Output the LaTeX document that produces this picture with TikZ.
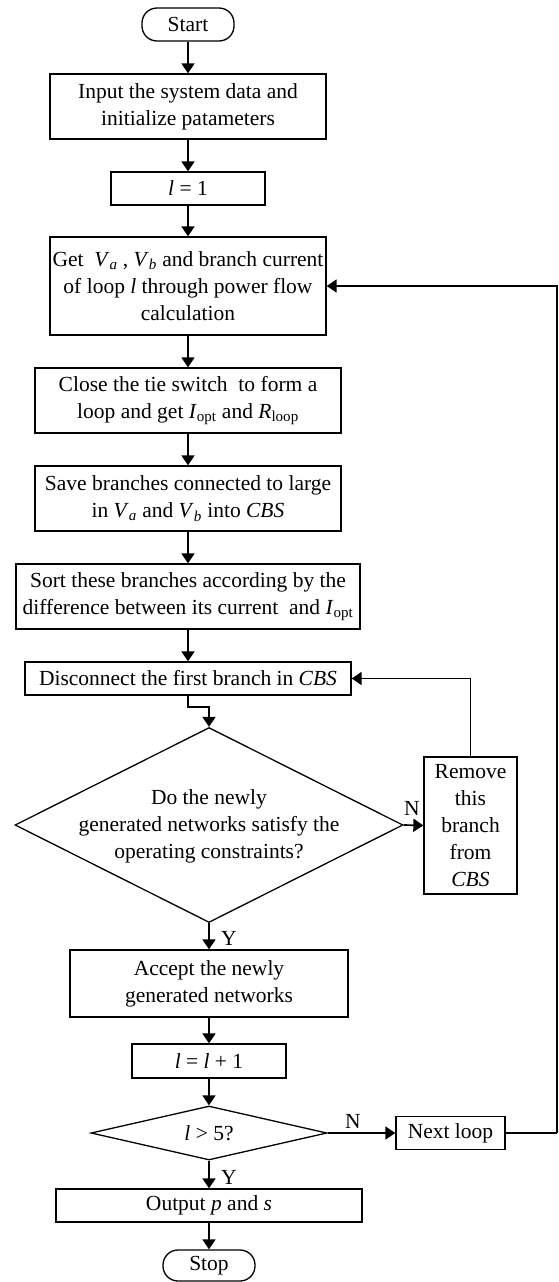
\documentclass[tikz,border=0pt]{standalone}
\usepackage{fontspec}
\setmainfont{Liberation Serif}
\usetikzlibrary{arrows.meta,shapes.geometric}
\newcommand{\myV}[1]{\textit{V}\textsubscript{\textit{#1}}}
\newcommand{\myIopt}{\textit{I}\textsubscript{opt}}
\begin{document}
\begin{tikzpicture}[x=1pt,y=-1pt,
  font=\fontsize{21.5}{27}\selectfont,
  box/.style={draw, line width=1.3pt, inner sep=0pt, align=center},
  term/.style={box, rounded corners=15pt},
  dec/.style={draw, diamond, line width=1.3pt, inner sep=0pt},
  arr/.style={line width=1.7pt, -{Triangle[length=10pt,width=13pt]}},
  ln/.style={line width=1.7pt},
  lab/.style={inner sep=0pt, align=center}]
\useasboundingbox (0,0) rectangle (558,1282);
\node[term, minimum width=92pt, minimum height=33pt] (start) at (188,24.5) {Start};
\node[box, minimum width=276pt, minimum height=65pt] (input) at (188,106.5) {Input the system data and\\initialize patameters};
\node[box, minimum width=154pt, minimum height=33pt] (l1) at (188,188.5) {\textit{l} = 1};
\node[box, minimum width=276pt, minimum height=98pt] (get) at (188,286) {Get \ \myV{a} , \myV{b} and branch current\\of loop \textit{l} through power flow\\calculation};
\node[box, minimum width=306pt, minimum height=65pt] (close) at (188,400.5) {Close the tie switch \ to form a\\loop and get \myIopt{} and \textit{R}\textsubscript{loop}};
\node[box, minimum width=306pt, minimum height=65pt] (save) at (188,498.5) {Save branches connected to large\\in \myV{a} and \myV{b} into \textit{CBS}};
\node[box, minimum width=344pt, minimum height=65pt] (sort) at (188,596.5) {Sort these branches according by the\\difference between its current \ and \myIopt};
\node[box, minimum width=326pt, minimum height=33pt] (disc) at (188,678.5) {Disconnect the first branch in \textit{CBS}};
\node[dec, minimum width=388pt, minimum height=195pt] (dia1) at (209,825) {};
\node[lab] (dia1t) at (209,826) {Do the newly\\generated networks satisfy the\\operating constraints?};
\node[box, minimum width=93pt, minimum height=137pt] (remove) at (470.5,825.5) {Remove\\this\\branch\\from\\\textit{CBS}};
\node[box, minimum width=278pt, minimum height=67pt] (accept) at (209,983.5) {Accept the newly\\generated networks};
\node[box, minimum width=154pt, minimum height=34pt] (l2) at (209,1061) {\textit{l} = \textit{l} + 1};
\node[dec, minimum width=236pt, minimum height=54pt] (dia2) at (209,1133) {};
\node[lab] (dia2t) at (209,1133) {\textit{l} {\textgreater} 5?};
\node[box, minimum width=109pt, minimum height=33pt] (next) at (450.5,1133) {Next loop};
\node[box, minimum width=306pt, minimum height=33pt] (output) at (209,1205.5) {Output \textit{p} and \textit{s}};
\node[term, minimum width=92pt, minimum height=31pt] (stop) at (209,1265.5) {Stop};
\coordinate (rc) at (557,1133);
\coordinate (bend) at (188,707);
% labels
\node[lab] (n1) at (412,808) {N};
\node[lab] (y1) at (229,938) {Y};
\node[lab] (n2) at (353,1121) {N};
\node[lab] (y2) at (229,1177) {Y};
% connectors
\draw[arr] (start) -- (input);
\draw[arr] (input) -- (l1);
\draw[arr] (l1) -- (get);
\draw[arr] (get) -- (close);
\draw[arr] (close) -- (save);
\draw[arr] (save) -- (sort);
\draw[arr] (sort) -- (disc);
\draw[arr] (disc.south) -- (bend) -| (dia1.north);
\draw[arr] (dia1.east) -- (remove.west);
\draw[arr] (remove.north) |- (disc.east);
\draw[arr] (dia1.south) -- (accept.north);
\draw[arr] (accept) -- (l2);
\draw[arr] (l2.south) -- (dia2.north);
\draw[arr] (dia2.east) -- (next.west);
\draw[ln] (next.east) -- (rc);
\draw[arr] (rc) |- (get.east);
\draw[arr] (dia2.south) -- (output.north);
\draw[arr] (output) -- (stop);
\end{tikzpicture}
\end{document}
